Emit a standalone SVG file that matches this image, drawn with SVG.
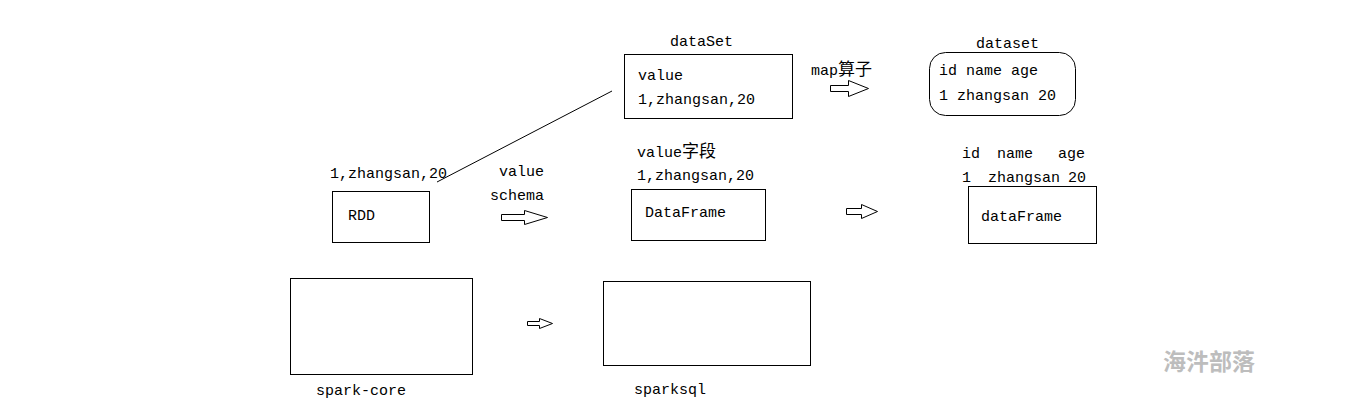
<svg xmlns="http://www.w3.org/2000/svg" width="1358" height="409" viewBox="0 0 1358 409">
<style>
text{font-family:"Liberation Mono","Noto Sans CJK SC",monospace;font-size:15px;fill:#000}
.cjk{font-family:"Noto Sans CJK SC",sans-serif;font-size:17px}
.box{fill:#fff;stroke:#000;stroke-width:1}
.arr{fill:#fff;stroke:#000;stroke-width:1}
.wm{font-family:"Noto Sans CJK SC",sans-serif;font-size:23px;fill:#bdbdbd;font-weight:bold}
</style>
<rect width="1358" height="409" fill="#fff"/>
<g id="connectors">
<line x1="612" y1="91" x2="437" y2="182" stroke="#000" stroke-width="1"/>
<polygon class="arr" points="830.5,85.5 848.5,85.5 848.5,80.5 868.5,88.5 848.5,96.5 848.5,91.5 830.5,91.5"/>
<polygon class="arr" points="501.5,214.5 524.5,214.5 524.5,210.5 547.5,217.5 524.5,224.5 524.5,220.5 501.5,220.5"/>
<polygon class="arr" points="846.5,208.5 861.5,208.5 861.5,204.5 877.5,211.5 861.5,218.5 861.5,214.5 846.5,214.5"/>
<polygon class="arr" points="527.5,321.5 539.5,321.5 539.5,318.5 552.5,323.5 539.5,328.5 539.5,325.5 527.5,325.5"/>
</g>
<g id="dataSet">
<text x="670" y="46">dataSet</text>
<rect class="box" x="624.5" y="54.5" width="168" height="64"/>
<text x="638" y="80">value</text>
<text x="638" y="104">1,zhangsan,20</text>
</g>
<g id="map-label">
<text x="811" y="75">map<tspan class="cjk">算子</tspan></text>
</g>
<g id="dataset2">
<text x="976" y="48">dataset</text>
<rect class="box" x="929.5" y="52.5" width="146" height="63" rx="16" ry="16"/>
<text x="939" y="75">id name age</text>
<text x="939" y="100">1 zhangsan 20</text>
</g>
<g id="rdd">
<text x="330" y="178">1,zhangsan,20</text>
<rect class="box" x="332.5" y="191.5" width="97" height="51"/>
<text x="348" y="220">RDD</text>
</g>
<g id="value-schema">
<text x="499" y="176">value</text>
<text x="490" y="200">schema</text>
</g>
<g id="DataFrame">
<text x="637" y="157">value<tspan class="cjk">字段</tspan></text>
<text x="637" y="180">1,zhangsan,20</text>
<rect class="box" x="631.5" y="189.5" width="134" height="51"/>
<text x="645" y="217">DataFrame</text>
</g>
<g id="dataFrame2">
<text x="962" y="158">id</text>
<text x="997" y="158">name</text>
<text x="1058" y="158">age</text>
<text x="962" y="182">1</text>
<text x="988" y="182">zhangsan</text>
<text x="1068" y="182">20</text>
<rect class="box" x="968.5" y="186.5" width="128" height="57"/>
<text x="981" y="221">dataFrame</text>
</g>
<g id="spark-core">
<rect class="box" x="290.5" y="278.5" width="182" height="96"/>
<text x="316" y="395">spark-core</text>
</g>
<g id="sparksql">
<rect class="box" x="603.5" y="281.5" width="207" height="84"/>
<text x="634" y="394">sparksql</text>
</g>
<text class="wm" x="1163" y="370">海汼部落</text>
</svg>
